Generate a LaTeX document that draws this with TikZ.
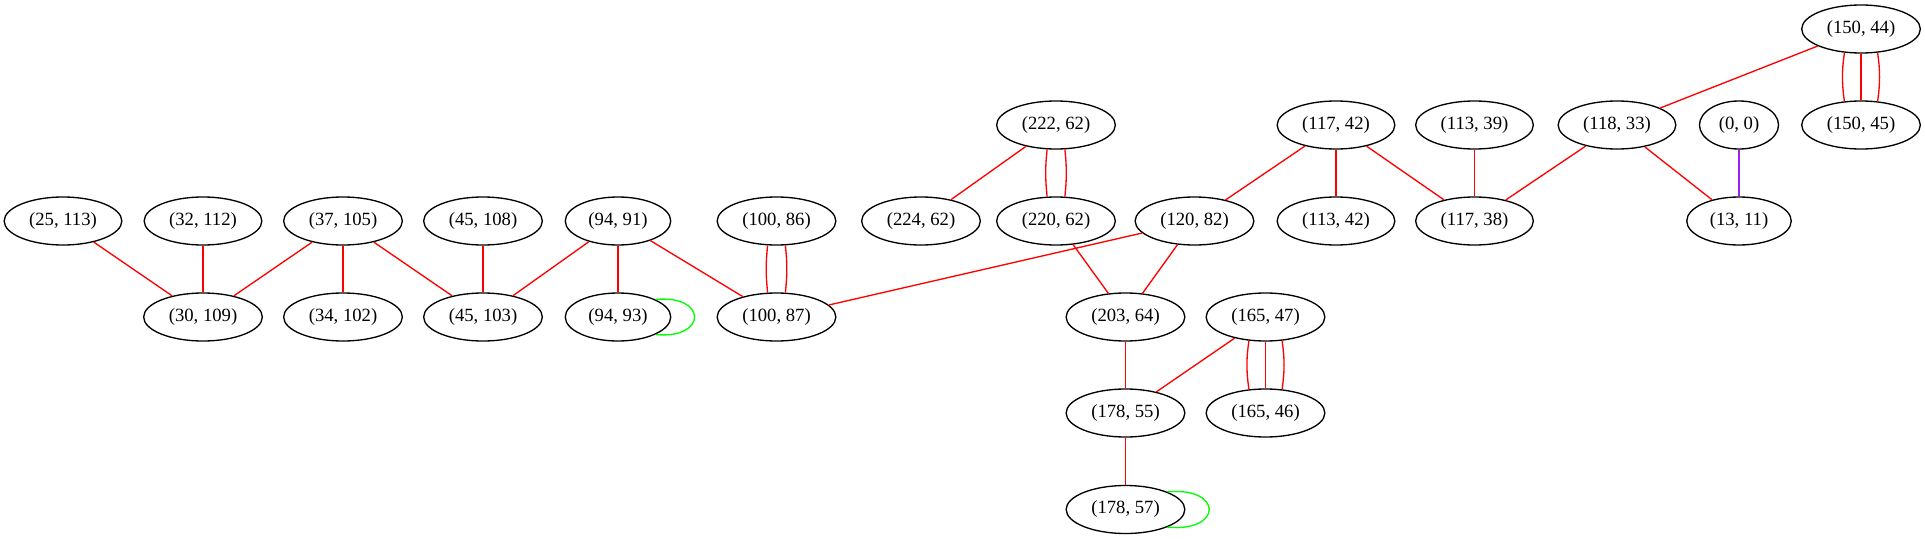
\documentclass[tikz,border=0pt]{standalone}
\usepackage{fontspec}
\setmainfont{Liberation Serif}
\usepackage{tikz}
\usetikzlibrary{shapes.geometric, arrows, positioning, calc}
\definecolor{linkred}{RGB}{255, 0, 0}
\definecolor{loopgreen}{RGB}{0, 255, 0}
\definecolor{zeropurple}{RGB}{160, 32, 240}

\begin{document}
\begin{tikzpicture}[x=0.75pt, y=-0.75pt,
    pairnode/.style={draw, ellipse, line width=1pt, inner xsep=5.8pt,
        inner ysep=0pt, minimum height=36pt,
        font=\fontsize{14}{16}\selectfont},
    redlink/.style={linkred, line width=1pt},
    selfloop/.style={loopgreen, line width=1pt}]
    \useasboundingbox (0,0) rectangle (1925,539);

    % Left cluster
    \node[pairnode] (p25-113) at (63,221) {(25, 113)};
    \node[pairnode] (p32-112) at (203,221) {(32, 112)};
    \node[pairnode] (p37-105) at (343,221) {(37, 105)};
    \node[pairnode] (p45-108) at (483,221) {(45, 108)};
    \node[pairnode] (p94-91) at (618,221) {(94, 91)};
    \node[pairnode] (p100-86) at (776.5,221) {(100, 86)};
    \node[pairnode] (p30-109) at (203,317) {(30, 109)};
    \node[pairnode] (p34-102) at (343,317) {(34, 102)};
    \node[pairnode] (p45-103) at (483,317) {(45, 103)};
    \node[pairnode] (p94-93) at (618,317) {(94, 93)};
    \node[pairnode] (p100-87) at (776.5,317) {(100, 87)};

    % Middle cluster
    \node[pairnode] (p222-62) at (1056,125) {(222, 62)};
    \node[pairnode] (p224-62) at (921,221) {(224, 62)};
    \node[pairnode] (p220-62) at (1056,221) {(220, 62)};
    \node[pairnode] (p120-82) at (1194.5,221) {(120, 82)};
    \node[pairnode] (p203-64) at (1125.5,317) {(203, 64)};
    \node[pairnode] (p165-47) at (1265.5,317) {(165, 47)};
    \node[pairnode] (p178-55) at (1125.5,413) {(178, 55)};
    \node[pairnode] (p165-46) at (1265.5,413) {(165, 46)};
    \node[pairnode] (p178-57) at (1125.5,509.5) {(178, 57)};

    % Right cluster
    \node[pairnode] (p117-42) at (1336,125) {(117, 42)};
    \node[pairnode] (p113-42) at (1336,221) {(113, 42)};
    \node[pairnode] (p113-39) at (1474.5,125) {(113, 39)};
    \node[pairnode] (p117-38) at (1474.5,221) {(117, 38)};
    \node[pairnode] (p118-33) at (1617,125) {(118, 33)};
    \node[pairnode] (p0-0) at (1739,125) {(0, 0)};
    \node[pairnode] (p13-11) at (1739,221) {(13, 11)};
    \node[pairnode] (p150-44) at (1861,29) {(150, 44)};
    \node[pairnode] (p150-45) at (1861,125) {(150, 45)};

    % Links, left
    \draw[redlink] (p25-113) -- (p30-109);
    \draw[redlink] (p32-112) -- (p30-109);
    \draw[redlink] (p37-105) -- (p30-109);
    \draw[redlink] (p37-105) -- (p34-102);
    \draw[redlink] (p37-105) -- (p45-103);
    \draw[redlink] (p45-108) -- (p45-103);
    \draw[redlink] (p94-91) -- (p45-103);
    \draw[redlink] (p94-91) -- (p94-93);
    \draw[redlink] (p94-91) -- (p100-87);
    \draw[redlink] (p100-86.250) to[bend right=6] (p100-87.110);
    \draw[redlink] (p100-86.290) to[bend left=6] (p100-87.70);
    \draw[selfloop] (p94-93.25) .. controls +(52,-5) and +(52,5) .. (p94-93.-25);

    % Links, middle
    \draw[redlink] (p222-62) -- (p224-62);
    \draw[redlink] (p222-62.250) to[bend right=6] (p220-62.110);
    \draw[redlink] (p222-62.290) to[bend left=6] (p220-62.70);
    \draw[redlink] (p220-62) -- (p203-64);
    \draw[redlink] (p120-82) -- (p100-87);
    \draw[redlink] (p120-82) -- (p203-64);
    \draw[redlink] (p203-64) -- (p178-55);
    \draw[redlink] (p165-47) -- (p178-55);
    \draw[redlink] (p165-47) -- (p165-46);
    \draw[redlink] (p165-47.235) to[bend right=8] (p165-46.125);
    \draw[redlink] (p165-47.305) to[bend left=8] (p165-46.55);
    \draw[redlink] (p178-55) -- (p178-57);
    \draw[selfloop] (p178-57.23) .. controls +(56,-5) and +(56,5) .. (p178-57.-23);

    % Links, right
    \draw[redlink] (p117-42) -- (p120-82);
    \draw[redlink] (p117-42) -- (p113-42);
    \draw[redlink] (p117-42) -- (p117-38);
    \draw[redlink] (p113-39) -- (p117-38);
    \draw[redlink] (p118-33) -- (p117-38);
    \draw[redlink] (p118-33) -- (p13-11);
    \draw[zeropurple, line width=1pt] (p0-0) -- (p13-11);
    \draw[redlink] (p150-44) -- (p118-33);
    \draw[redlink] (p150-44) -- (p150-45);
    \draw[redlink] (p150-44.235) to[bend right=8] (p150-45.125);
    \draw[redlink] (p150-44.305) to[bend left=8] (p150-45.55);
\end{tikzpicture}
\end{document}
